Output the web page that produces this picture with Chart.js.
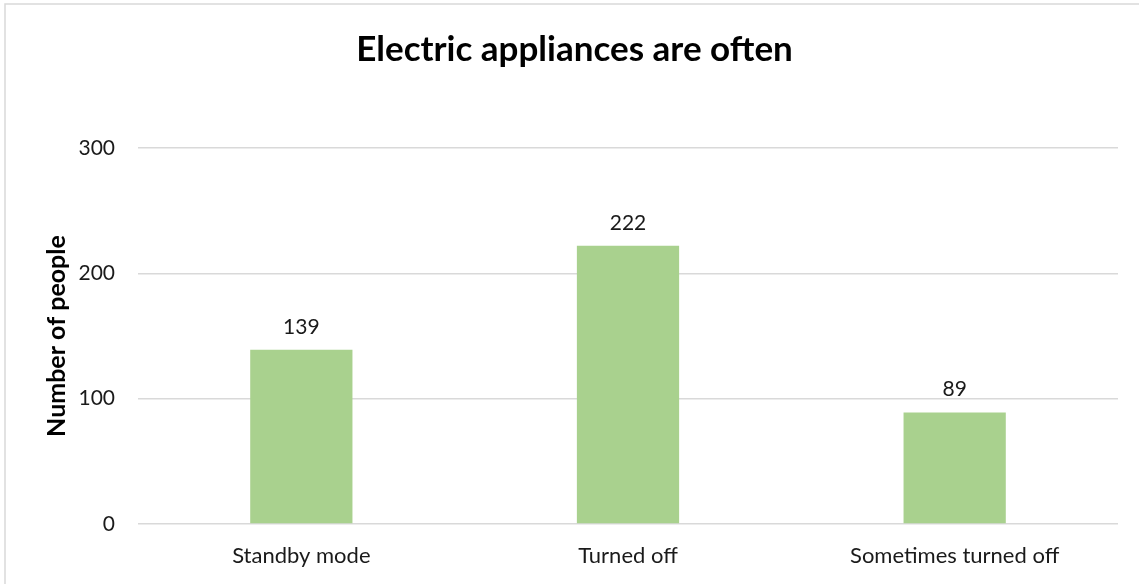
<!DOCTYPE html>
<html>
<head>
<meta charset="utf-8">
<script src="https://cdn.jsdelivr.net/npm/chart.js@4/dist/chart.umd.min.js"></script>
<style>
  html, body { margin: 0; padding: 0; background: #fff; }
  #wrap { position: relative; width: 1139px; height: 584px; }
</style>
</head>
<body>
<div id="wrap"><canvas id="c" width="1139" height="584"></canvas></div>
<script>
const categories = ['Standby mode', 'Turned off', 'Sometimes turned off'];
const values = [139, 222, 89];
const yTicks = [0, 100, 200, 300];
const chartTitle = 'Electric appliances are often';
const yAxisTitle = 'Number of people';

const FONT = 'Lato, "Open Sans", sans-serif';

const frame = {
  id: 'frame',
  beforeDraw(chart) {
    const ctx = chart.ctx;
    ctx.save();
    ctx.fillStyle = '#fff';
    ctx.fillRect(0, 0, chart.width, chart.height);
    ctx.strokeStyle = '#d9d9d9';
    ctx.lineWidth = 1.5;
    ctx.strokeRect(5, 4, 1150, 620);
    ctx.restore();
  }
};

const labels = {
  id: 'valueLabels',
  afterDatasetsDraw(chart) {
    const ctx = chart.ctx;
    const meta = chart.getDatasetMeta(0);
    ctx.save();
    ctx.font = '21px ' + FONT;
    ctx.fillStyle = '#1a1a1a';
    ctx.textAlign = 'center';
    ctx.textBaseline = 'middle';
    meta.data.forEach((bar, i) => {
      ctx.fillText(String(values[i]), bar.x, bar.y - 23);
    });
    ctx.restore();
  }
};

new Chart(document.getElementById('c'), {
  type: 'bar',
  data: {
    labels: categories,
    datasets: [{
      data: values,
      backgroundColor: '#a9d18e',
      borderWidth: 0,
      categoryPercentage: 1,
      barPercentage: 0.313
    }]
  },
  options: {
    responsive: false,
    animation: false,
    devicePixelRatio: 1,
    layout: { padding: { left: 10, right: 0, top: 0, bottom: 0 } },
    plugins: {
      legend: { display: false },
      tooltip: { enabled: false },
      title: {
        display: true,
        text: chartTitle,
        color: '#000',
        font: { family: FONT, size: 35, weight: 'bold', lineHeight: 1.2 },
        padding: { top: 29, bottom: 77 }
      }
    },
    scales: {
      x: {
        grid: { display: false, drawTicks: false },
        border: { display: false },
        ticks: { color: '#1a1a1a', font: { family: FONT, size: 22 }, padding: 19, maxRotation: 0 },
        afterFit(scale) { scale.height = 60; }
      },
      y: {
        min: 0,
        max: 300,
        afterBuildTicks(scale) { scale.ticks = yTicks.map(v => ({ value: v })); },
        grid: { color: '#d9d9d9', lineWidth: 1.5, drawTicks: false },
        border: { display: false },
        ticks: { color: '#1a1a1a', font: { family: FONT, size: 21 }, padding: 23 },
        title: {
          display: true,
          text: yAxisTitle,
          color: '#000',
          font: { family: FONT, size: 25, weight: 'bold', lineHeight: 1.2 },
          padding: { top: 32, bottom: 0 }
        },
        afterFit(scale) { scale.width = 128; }
      },
      spacer: {
        type: 'linear',
        position: 'right',
        min: 0,
        max: 300,
        grid: { display: false, drawTicks: false },
        border: { display: false },
        ticks: { display: false },
        afterFit(scale) { scale.width = 21; }
      }
    }
  },
  plugins: [frame, labels]
});
</script>
</body>
</html>
